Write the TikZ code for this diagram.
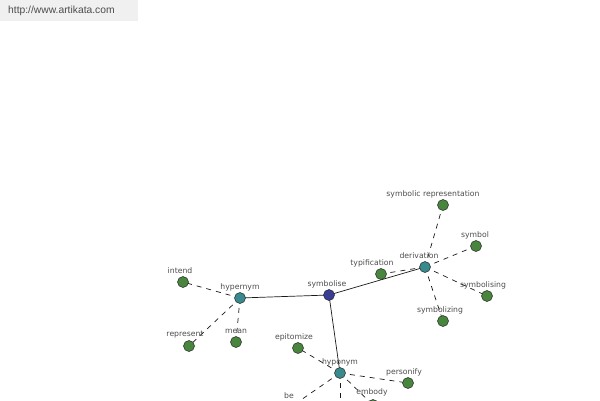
\documentclass[tikz,border=0pt]{standalone}
\usepackage{fontspec}
\setmainfont{Liberation Sans}
\newfontfamily\lblfont{DejaVu Sans}
\definecolor{leafc}{RGB}{72,134,62}
\definecolor{hubc}{RGB}{56,138,140}
\definecolor{rootc}{RGB}{58,60,150}
\begin{document}
\begin{tikzpicture}[x=1pt,y=-1pt,
  dot/.style={circle,draw=black!85,line width=0.5pt,minimum size=11pt,inner sep=0pt},
  leaf/.style={dot,fill=leafc},
  hub/.style={dot,fill=hubc},
  root/.style={dot,fill=rootc},
  lbl/.style={font=\lblfont\fontsize{7.7}{8}\selectfont,text=black!70,inner sep=0pt},
  rel/.style={line width=0.7pt,black!90},
  dsh/.style={rel,dash pattern=on 5pt off 5pt}]
\useasboundingbox (0,0) rectangle (600,400);
\clip (0,0) rectangle (600,400);
\fill[black!6] (0,0) rectangle (138,21);
\node[font=\fontsize{10.3}{11}\selectfont,text=black!70,anchor=west,inner sep=0pt] (url) at (8,11) {http://www.artikata.com};
% nodes
\coordinate (symbolise) at (329,295);
\coordinate (hypernym) at (240,298);
\coordinate (intend) at (183,282);
\coordinate (represent) at (189,346);
\coordinate (mean) at (236,342);
\coordinate (derivation) at (425,267);
\coordinate (typification) at (381,274);
\coordinate (symrep) at (443,205);
\coordinate (symbol) at (476,246);
\coordinate (symbolising) at (487,296);
\coordinate (symbolizing) at (443,321);
\coordinate (hyponym) at (340,373);
\coordinate (epitomize) at (298,348);
\coordinate (personify) at (408,383);
\coordinate (embody) at (373,405);
\coordinate (be) at (282,413);
\coordinate (down) at (340,430);
% edges
\draw[rel] (hypernym) -- (symbolise);
\draw[rel] (symbolise) -- (derivation);
\draw[rel] (symbolise) -- (hyponym);
\draw[dsh] (hypernym) -- (intend);
\draw[dsh] (hypernym) -- (represent);
\draw[dsh] (hypernym) -- (mean);
\draw[dsh] (derivation) -- (typification);
\draw[dsh] (derivation) -- (symrep);
\draw[dsh] (derivation) -- (symbol);
\draw[dsh] (derivation) -- (symbolising);
\draw[dsh] (derivation) -- (symbolizing);
\draw[dsh] (hyponym) -- (epitomize);
\draw[dsh] (hyponym) -- (personify);
\draw[dsh] (hyponym) -- (embody);
\draw[dsh] (hyponym) -- (be);
\draw[dsh] (hyponym) -- (down);
% dots
\node[root] (nsymbolise) at (symbolise) {};
\foreach \n in {hypernym,derivation,hyponym} \node[hub] (n\n) at (\n) {};
\foreach \n in {intend,represent,mean,typification,symrep,symbol,symbolising,symbolizing,epitomize,personify,embody,be} \node[leaf] (n\n) at (\n) {};
% labels
\node[lbl] (lsymbolise) at (327,284) {symbolise};
\node[lbl] (lhypernym) at (240,287) {hypernym};
\node[lbl] (lintend) at (180,271) {intend};
\node[lbl] (lrepresent) at (185,335) {represent};
\node[lbl] (lmean) at (236,331) {mean};
\node[lbl] (lderivation) at (419,256) {derivation};
\node[lbl] (ltypification) at (372,263) {typification};
\node[lbl] (lsymrep) at (433,194) {symbolic representation};
\node[lbl] (lsymbol) at (475,235) {symbol};
\node[lbl] (lsymbolising) at (483,285) {symbolising};
\node[lbl] (lsymbolizing) at (440,310) {symbolizing};
\node[lbl] (lhyponym) at (340,362) {hyponym};
\node[lbl] (lepitomize) at (294,337) {epitomize};
\node[lbl] (lpersonify) at (404,372) {personify};
\node[lbl] (lembody) at (372,392) {embody};
\node[lbl] (lbe) at (289,396) {be};
\end{tikzpicture}
\end{document}
